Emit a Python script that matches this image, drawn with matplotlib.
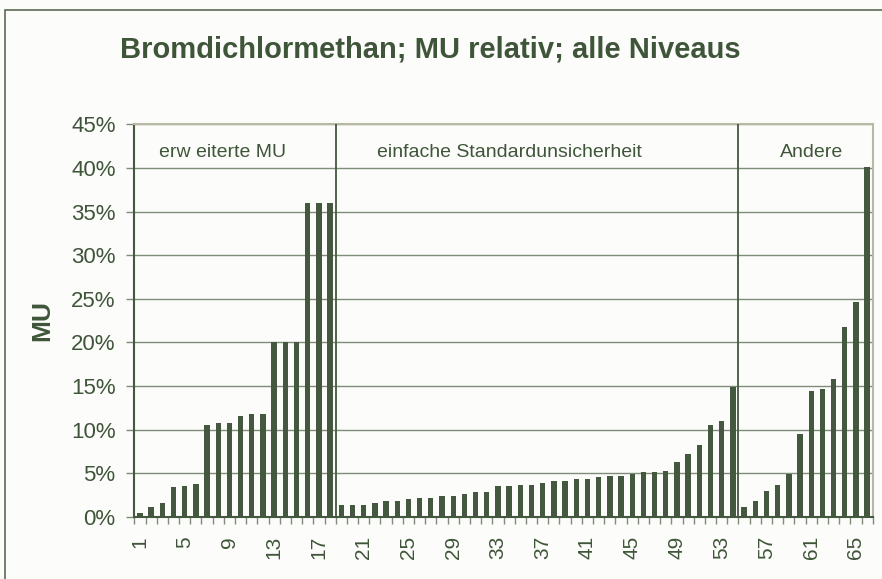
import numpy as np
import matplotlib
matplotlib.use('Agg')
import matplotlib.pyplot as plt
from matplotlib.patches import Rectangle
from matplotlib.ticker import FuncFormatter, MultipleLocator

mu_erweitert = [0.46, 1.07, 1.53, 3.44, 3.56, 3.78, 10.5, 10.8, 10.8, 11.6, 11.8, 11.8,
                20.0, 20.0, 20.0, 36.0, 36.0, 36.0]
mu_einfach = [1.33, 1.33, 1.33, 1.55, 1.78, 1.78, 2.0, 2.16, 2.16, 2.39, 2.39, 2.61,
              2.8, 2.8, 3.48, 3.48, 3.64, 3.64, 3.83, 4.05, 4.05, 4.28, 4.28, 4.5,
              4.7, 4.7, 4.92, 5.11, 5.11, 5.27, 6.33, 7.16, 8.18, 10.5, 10.95, 14.9]
mu_andere = [1.1, 1.78, 3.0, 3.6, 4.92, 9.47, 14.43, 14.66, 15.76, 21.7, 24.6, 40.15]

groups = ['erw eiterte MU', 'einfache Standardunsicherheit', 'Andere']
title = 'Bromdichlormethan; MU relativ; alle Niveaus'

values = mu_erweitert + mu_einfach + mu_andere
x = np.arange(1, len(values) + 1)

bar_col = '#44573f'
text_col = '#3f5539'
grid_col = '#7f8c7a'
frame_col = '#b8b8a4'
bg = '#fcfcfa'

plt.rcParams['font.family'] = ['Liberation Sans', 'DejaVu Sans']

fig = plt.figure(figsize=(8.82, 5.79), dpi=100, facecolor=bg)
# outer chart frame (left/top visible)
fig.patches.append(Rectangle((5 / 882, -0.1), 1.2, 1 - 10 / 579 + 0.1,
                             transform=fig.transFigure, fill=False,
                             edgecolor='#5a6a55', linewidth=1.2))

ax = fig.add_axes([0.1523, 0.1076, 0.8372, 0.6777], facecolor=bg)
ax.bar(x, values, width=0.48, color=bar_col, zorder=3)

ax.set_xlim(0.5, len(values) + 0.5)
ax.set_ylim(0, 45)
ax.yaxis.set_major_locator(MultipleLocator(5))
ax.yaxis.set_major_formatter(FuncFormatter(lambda v, p: '%d%%' % round(v)))
ax.grid(axis='y', color=grid_col, linewidth=1.0, zorder=1)

ax.set_xticks(x[::4])
ax.set_xticklabels([str(v) for v in x[::4]], rotation=90)
ax.set_xticks(np.arange(0.5, len(values) + 1), minor=True)
ax.tick_params(axis='x', which='major', length=0, pad=14, labelsize=15, labelcolor=text_col)
ax.tick_params(axis='x', which='minor', length=5, width=1, color=grid_col, direction='out')
ax.tick_params(axis='y', length=5.5, width=1, color=grid_col, pad=8, labelsize=16,
               labelcolor=text_col)

for s in ['left', 'bottom']:
    ax.spines[s].set_color(bar_col)
    ax.spines[s].set_linewidth(1.5)
for s in ['top', 'right']:
    ax.spines[s].set_color(frame_col)
    ax.spines[s].set_linewidth(1.5)

# group separators and labels
n1 = len(mu_erweitert)
n2 = n1 + len(mu_einfach)
for sep in [n1 + 0.5, n2 + 0.5]:
    ax.axvline(sep, color=bar_col, linewidth=1.3, zorder=4)
label_x = [2.71, 22.16, 58.2]
for lx, name in zip(label_x, groups):
    ax.text(lx, 41.8, name, ha='left', va='center', fontsize=14, color=text_col)

ax.set_ylabel('MU', fontsize=19, fontweight='bold', color=text_col)
ax.yaxis.set_label_coords(-0.108, 0.5)
fig.text(0.4875, 1 - 57 / 579, title, ha='center', va='baseline', fontsize=21,
         fontweight='bold', color=text_col)

fig.savefig('out.png', dpi=100, facecolor=bg)
